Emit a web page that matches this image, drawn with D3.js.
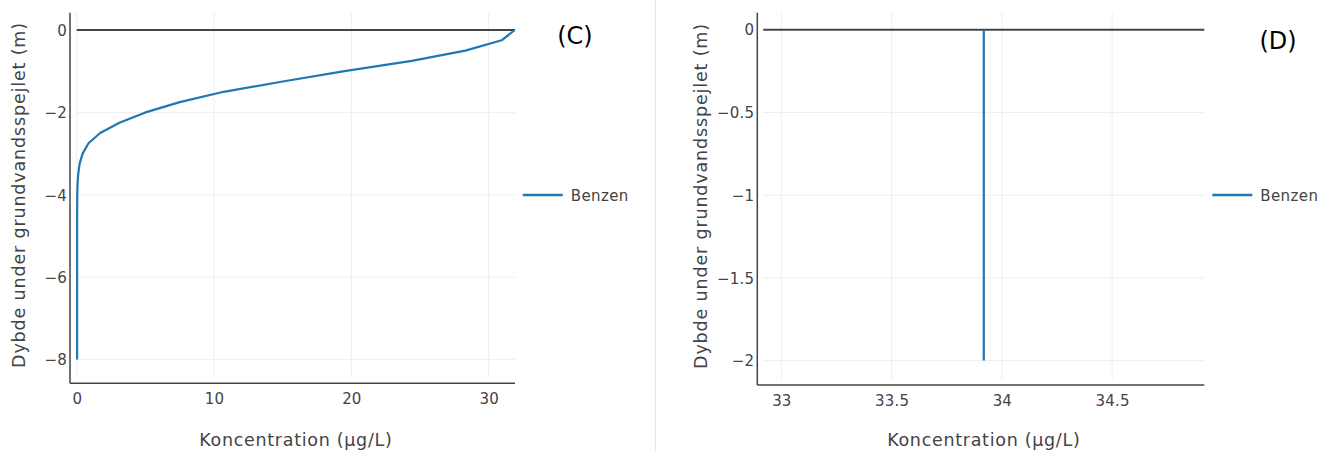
<!DOCTYPE html>
<html>
<head>
<meta charset="utf-8">
<script src="https://cdn.jsdelivr.net/npm/d3@7"></script>
<style>
  html, body { margin: 0; padding: 0; background: #fff; }
  svg { display: block; }
  text { font-family: "DejaVu Sans", Verdana, sans-serif; }
</style>
</head>
<body>
<svg id="chart" width="1320" height="452"></svg>
<script>
// ---------- DATA ----------
// Panel C: Benzen concentration vs depth below groundwater table
const depthC = [0, -0.25, -0.5, -0.75, -1.0, -1.25, -1.5, -1.75, -2.0, -2.25, -2.5, -2.75, -3.0, -3.25, -3.5, -3.75, -4.0, -4.5, -5.0, -6.0, -7.0, -8.0];
const concC  = [31.9, 30.95, 28.3, 24.4, 19.5, 15.0, 10.7, 7.5, 5.0, 3.1, 1.7, 0.85, 0.42, 0.2, 0.1, 0.05, 0.03, 0.02, 0.02, 0.02, 0.02, 0.02];
// Panel D: constant concentration
const depthD = [0, -0.5, -1.0, -1.5, -2.0];
const concD  = [33.918, 33.918, 33.918, 33.918, 33.918];

const xTicksC = [0, 10, 20, 30];
const yTicksC = [0, -2, -4, -6, -8];
const xTicksD = [33, 33.5, 34, 34.5];
const yTicksD = [0, -0.5, -1, -1.5, -2];

const seriesName = "Benzen";
const xTitle = "Koncentration (µg/L)";
const yTitle = "Dybde under grundvandsspejlet (m)";
const panelLabels = ["(C)", "(D)"];

// ---------- LAYOUT ----------
const svg = d3.select("#chart");
const lineColor = "#1f77b4";
const fmtMinus = v => String(v).replace("-", "\u2212");

// separator between the two panels
svg.append("line").attr("x1", 655.5).attr("x2", 655.5).attr("y1", 0).attr("y2", 452)
  .attr("stroke", "#e8e8e8").attr("stroke-width", 1);

function panel(cfg) {
  const g = svg.append("g");
  const x = d3.scaleLinear().domain(cfg.xDomain).range([cfg.left, cfg.right]);
  const y = d3.scaleLinear().domain(cfg.yDomain).range([cfg.bottom, cfg.top]);

  // gridlines
  g.append("g").selectAll("line").data(cfg.xTicks).join("line")
    .attr("x1", d => x(d)).attr("x2", d => x(d))
    .attr("y1", cfg.top).attr("y2", cfg.bottom)
    .attr("stroke", "#eeeeee").attr("stroke-width", 1);
  g.append("g").selectAll("line").data(cfg.yTicks).join("line")
    .attr("x1", cfg.left).attr("x2", cfg.right)
    .attr("y1", d => y(d)).attr("y2", d => y(d))
    .attr("stroke", "#eeeeee").attr("stroke-width", 1);

  // zero reference line
  g.append("line").attr("x1", cfg.left).attr("x2", cfg.right)
    .attr("y1", y(0)).attr("y2", y(0))
    .attr("stroke", "#444").attr("stroke-width", 2);

  // axis lines (offset from plot area)
  g.append("line").attr("x1", cfg.axX).attr("x2", cfg.axX)
    .attr("y1", cfg.top).attr("y2", cfg.axY)
    .attr("stroke", "#444").attr("stroke-width", 1.5);
  g.append("line").attr("x1", cfg.axX).attr("x2", cfg.right)
    .attr("y1", cfg.axY).attr("y2", cfg.axY)
    .attr("stroke", "#444").attr("stroke-width", 1.5);

  // tick labels via d3 axes (no domain, no tick lines)
  const xAxis = d3.axisBottom(x).tickValues(cfg.xTicks).tickSize(0).tickPadding(0)
    .tickFormat(d => fmtMinus(d));
  const gx = g.append("g").attr("transform", `translate(0,${cfg.axY + 21})`).call(xAxis);
  gx.select(".domain").remove();
  gx.selectAll("text").attr("fill", "#444").attr("font-size", 15)
    .attr("font-family", "DejaVu Sans, sans-serif").attr("dy", 0).attr("y", 0)
    .attr("letter-spacing", 0.2);

  const yAxis = d3.axisLeft(y).tickValues(cfg.yTicks).tickSize(0).tickPadding(0)
    .tickFormat(d => fmtMinus(d));
  const gy = g.append("g").attr("transform", `translate(${cfg.axX - 3},0)`).call(yAxis);
  gy.select(".domain").remove();
  gy.selectAll("text").attr("fill", "#444").attr("font-size", 15)
    .attr("font-family", "DejaVu Sans, sans-serif").attr("dy", "0.35em")
    .attr("letter-spacing", 0.2);

  // data line
  const pts = cfg.depth.map((d, i) => [cfg.conc[i], d]);
  g.append("path").datum(pts)
    .attr("fill", "none").attr("stroke", lineColor).attr("stroke-width", 2.2)
    .attr("stroke-linejoin", "round")
    .attr("d", d3.line().x(d => x(d[0])).y(d => y(d[1])));

  // axis titles
  g.append("text").attr("x", (cfg.left + cfg.right) / 2).attr("y", 446)
    .attr("text-anchor", "middle").attr("fill", "#444").attr("font-size", 17.5)
    .attr("letter-spacing", 0.7)
    .text(xTitle);
  g.append("text")
    .attr("transform", `translate(${cfg.yTitleX},${(cfg.top + cfg.bottom) / 2 + 0}) rotate(-90)`)
    .attr("text-anchor", "middle").attr("fill", "#444").attr("font-size", 17.5)
    .attr("letter-spacing", 0.85)
    .text(yTitle);

  // legend
  g.append("line").attr("x1", cfg.legX).attr("x2", cfg.legX + 40)
    .attr("y1", 195).attr("y2", 195).attr("stroke", lineColor).attr("stroke-width", 2.5);
  g.append("text").attr("x", cfg.legX + 48).attr("y", 200.5)
    .attr("fill", "#444").attr("font-size", 15).attr("letter-spacing", 0.4)
    .text(seriesName);

  // panel label
  g.append("text").attr("x", cfg.labX).attr("y", cfg.labY)
    .attr("text-anchor", "middle").attr("fill", "#000")
    .attr("font-family", "Lato, 'Open Sans', sans-serif").attr("font-size", 24)
    .text(cfg.label);
}

panel({
  xDomain: [-0.01, 31.92], yDomain: [-8.43, 0.42],
  left: 76.7, right: 515, top: 12.7, bottom: 377.3,
  axX: 70, axY: 383.3,
  xTicks: xTicksC, yTicks: yTicksC,
  depth: depthC, conc: concC,
  yTitleX: 25, legX: 522.7,
  label: panelLabels[0], labX: 575, labY: 44
});

panel({
  xDomain: [32.918, 34.918], yDomain: [-2.113, 0.103],
  left: 763.3, right: 1204.3, top: 12.7, bottom: 379.3,
  axX: 757.3, axY: 385,
  xTicks: xTicksD, yTicks: yTicksD,
  depth: depthD, conc: concD,
  yTitleX: 707, legX: 1212.3,
  label: panelLabels[1], labX: 1278, labY: 49
});
</script>
</body>
</html>
